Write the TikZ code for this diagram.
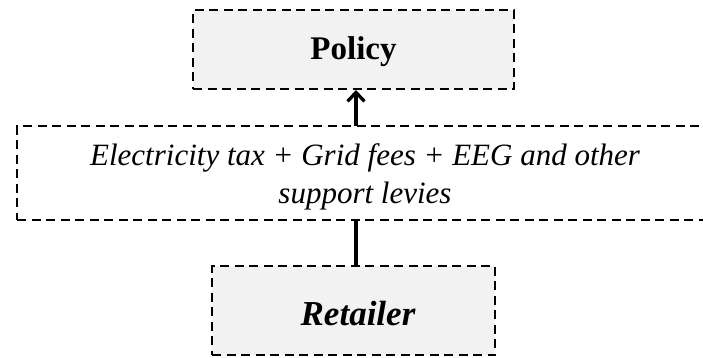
\documentclass[tikz,border=0pt]{standalone}
\usepackage{fontspec}
\setmainfont{Liberation Serif}
\usetikzlibrary{arrows.meta}
\definecolor{boxgray}{HTML}{F2F2F2}
\tikzset{
  x=1pt, y=-1pt,
  dashbox/.style={draw=black, line width=2.6pt, dash pattern=on 9pt off 5.5pt, fill=boxgray, inner sep=0pt},
  plainbox/.style={draw=black, line width=2.6pt, dash pattern=on 9pt off 5.5pt, fill=white, inner sep=0pt},
  conn/.style={draw=black, line width=3.3pt},
  lbl/.style={align=center, inner sep=0pt, anchor=base}
}
\begin{document}
\begin{tikzpicture}
\useasboundingbox (0,0) rectangle (703,357);
\node[dashbox, minimum width=321pt, minimum height=79pt] (policy) at (353.5,49.5) {};
\node[lbl, font=\fontsize{33}{38}\selectfont\bfseries] (policytext) at (353.5,59) {Policy};
\node[plainbox, minimum width=700pt, minimum height=94pt] (fees) at (367,173) {};
\node[lbl, font=\fontsize{31}{38}\selectfont\itshape] (feestext1) at (365,165) {Electricity tax + Grid fees + EEG and other};
\node[lbl, font=\fontsize{31}{38}\selectfont\itshape] (feestext2) at (365,203) {support levies};
\node[dashbox, minimum width=283pt, minimum height=89pt] (retailer) at (353.5,310.5) {};
\node[lbl, font=\fontsize{35}{38}\selectfont\bfseries\itshape] (retailertext) at (358,325) {Retailer};
\coordinate (a1) at (356,126);
\coordinate (a2) at (356,90);
\coordinate (b1) at (356,266);
\coordinate (b2) at (356,220);
\draw[conn, -{Straight Barb[length=9pt,width=17pt]}] (a1) -- (a2);
\draw[conn] (b1) -- (b2);
\end{tikzpicture}
\end{document}
